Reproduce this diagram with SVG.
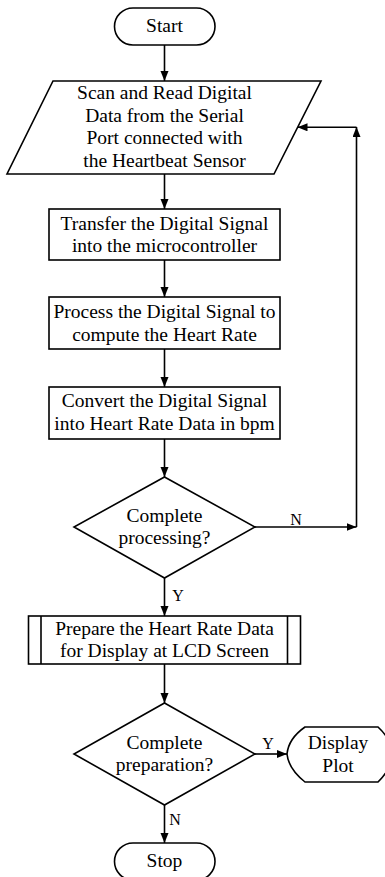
<svg xmlns="http://www.w3.org/2000/svg" width="385" height="877" viewBox="0 0 385 877">
<defs>
<marker id="ah" markerUnits="userSpaceOnUse" markerWidth="11" markerHeight="9" refX="10" refY="4" orient="auto">
<path d="M0,0 L10,4 L0,8 Z" fill="#000"/>
</marker>
<style>
.s{fill:#fff;stroke:#000;stroke-width:1.6}
.t{font-family:"Liberation Serif","Times New Roman",serif;font-size:19.5px;text-anchor:middle;fill:#000}
.l{font-family:"Liberation Serif","Times New Roman",serif;font-size:16px;text-anchor:middle;fill:#000}
.c{fill:none;stroke:#000;stroke-width:1.6}
</style>
</defs>
<rect width="385" height="877" fill="#fff"/>
<g id="connectors">
<path class="c" d="M164.5,45 V81" marker-end="url(#ah)"/>
<path class="c" d="M164.5,174 V209" marker-end="url(#ah)"/>
<path class="c" d="M164.5,260 V297" marker-end="url(#ah)"/>
<path class="c" d="M164.5,349 V387" marker-end="url(#ah)"/>
<path class="c" d="M164.5,439 V477" marker-end="url(#ah)"/>
<path class="c" d="M255,527 H356.5" marker-end="url(#ah)"/>
<path class="c" d="M356.5,527 V127" marker-end="url(#ah)"/>
<path class="c" d="M356.5,127.3 H297.5" marker-end="url(#ah)"/>
<path class="c" d="M164.5,578 V616" marker-end="url(#ah)"/>
<path class="c" d="M164.5,664 V703" marker-end="url(#ah)"/>
<path class="c" d="M255,754 H287" marker-end="url(#ah)"/>
<path class="c" d="M164.5,805 V843" marker-end="url(#ah)"/>
<text class="l" x="296" y="525">N</text>
<text class="l" x="178" y="601">Y</text>
<text class="l" x="268" y="749">Y</text>
<text class="l" x="175" y="825">N</text>
</g>
<g id="start">
<rect class="s" x="114.5" y="8" width="100.5" height="37" rx="18.5"/>
<text class="t" x="164.5" y="32">Start</text>
</g>
<g id="read">
<path class="s" d="M53,81 L321,81 L274,174 L7,174 Z"/>
<text class="t" x="164.5" y="99">Scan and Read Digital</text>
<text class="t" x="164.5" y="121.5">Data from the Serial</text>
<text class="t" x="164.5" y="144">Port connected with</text>
<text class="t" x="164.5" y="166.5">the Heartbeat Sensor</text>
</g>
<g id="transfer">
<rect class="s" x="49" y="209" width="231" height="51"/>
<text class="t" x="164.5" y="229.5">Transfer the Digital Signal</text>
<text class="t" x="164.5" y="252">into the microcontroller</text>
</g>
<g id="process">
<rect class="s" x="49" y="297" width="231" height="52"/>
<text class="t" x="164.5" y="318">Process the Digital Signal to</text>
<text class="t" x="164.5" y="340.5">compute the Heart Rate</text>
</g>
<g id="convert">
<rect class="s" x="49" y="387" width="231" height="52"/>
<text class="t" x="164.5" y="407">Convert the Digital Signal</text>
<text class="t" x="164.5" y="429.5">into Heart Rate Data in bpm</text>
</g>
<g id="decision1">
<path class="s" d="M164.5,477 L255,527 L164.5,578 L74,527 Z"/>
<text class="t" x="164.5" y="521.5">Complete</text>
<text class="t" x="164.5" y="544">processing?</text>
</g>
<g id="prepare">
<rect class="s" x="28.5" y="616" width="272" height="48"/>
<path class="c" d="M41,616 V664 M287.5,616 V664"/>
<text class="t" x="164.5" y="634.5">Prepare the Heart Rate Data</text>
<text class="t" x="164.5" y="657">for Display at LCD Screen</text>
</g>
<g id="decision2">
<path class="s" d="M164.5,703 L255,754 L164.5,805 L74,754 Z"/>
<text class="t" x="164.5" y="748.5">Complete</text>
<text class="t" x="164.5" y="771">preparation?</text>
</g>
<g id="display">
<path class="s" d="M305,727 L378,727 Q392,740 392,754 Q392,768 378,782 L305,782 C295,774 288,764 287,754 C288,744 295,734 305,727 Z"/>
<text class="t" x="338" y="749">Display</text>
<text class="t" x="338" y="771.5">Plot</text>
</g>
<g id="stop">
<rect class="s" x="114.5" y="843" width="100.5" height="37" rx="18.5"/>
<text class="t" x="164.5" y="867">Stop</text>
</g>
</svg>
